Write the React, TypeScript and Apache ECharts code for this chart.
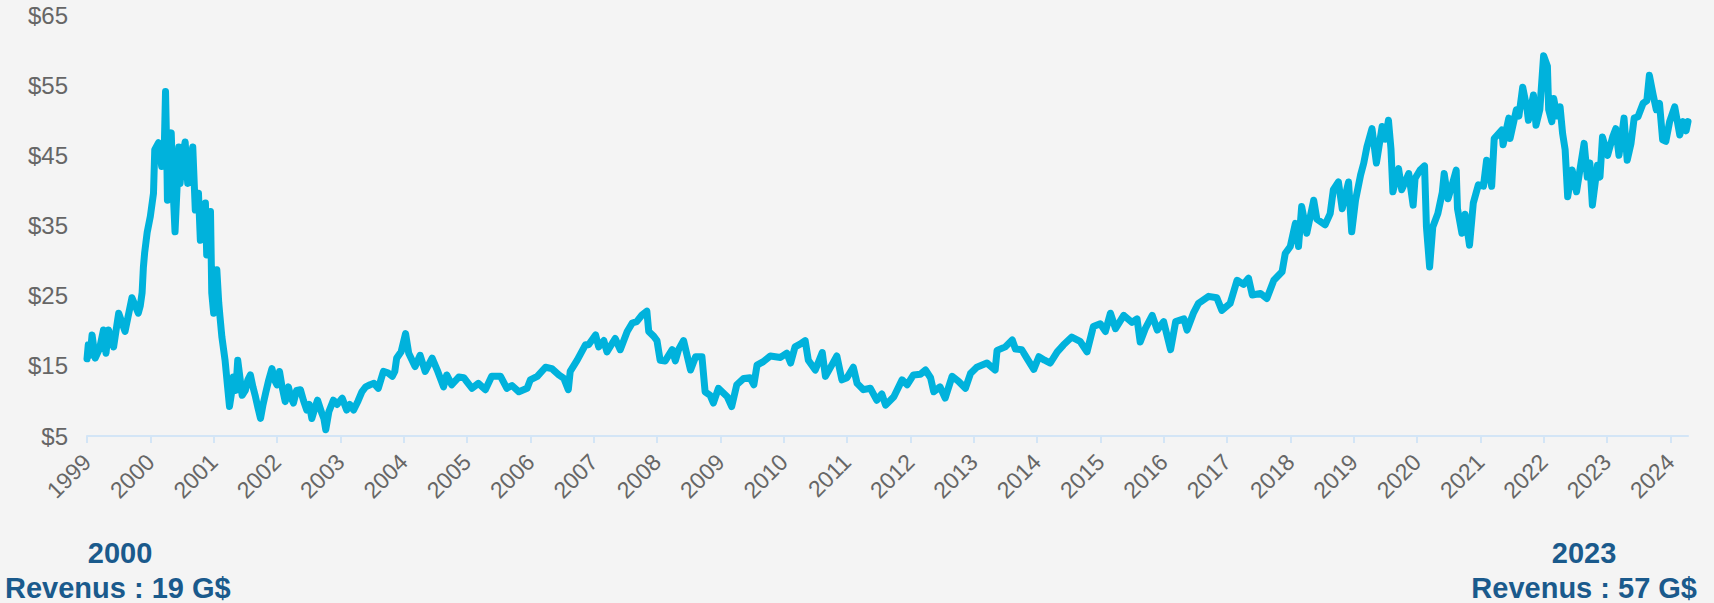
import React, { useEffect, useRef } from "react";
import * as echarts from "echarts";

// Decimal-year dates and closing prices
const DATES = [
  1999.0, 1999.02, 1999.05, 1999.08, 1999.13, 1999.2, 1999.26, 1999.3, 1999.34, 1999.42, 1999.5, 1999.6, 1999.71, 1999.81, 1999.84, 1999.87, 1999.89, 1999.91, 1999.95,
  2000.0, 2000.05, 2000.07, 2000.13, 2000.18, 2000.22, 2000.24, 2000.26, 2000.27, 2000.3, 2000.33, 2000.36, 2000.39, 2000.42, 2000.45, 2000.47, 2000.51, 2000.55, 2000.59, 2000.63, 2000.67, 2000.71, 2000.76, 2000.79, 2000.84, 2000.87, 2000.89, 2000.93, 2000.95, 2000.97,
  2001.0, 2001.05, 2001.08, 2001.1, 2001.13, 2001.18, 2001.22, 2001.25, 2001.28, 2001.31, 2001.35, 2001.38, 2001.42, 2001.45, 2001.5, 2001.54, 2001.58, 2001.62, 2001.66, 2001.7, 2001.74, 2001.78, 2001.82, 2001.87, 2001.92, 2001.96,
  2002.0, 2002.04, 2002.08, 2002.13, 2002.18, 2002.22, 2002.26, 2002.31, 2002.37, 2002.42, 2002.47, 2002.51, 2002.55, 2002.6, 2002.64, 2002.68, 2002.71, 2002.74, 2002.77, 2002.82, 2002.89, 2002.95,
  2003.03, 2003.1, 2003.15, 2003.21, 2003.28, 2003.34, 2003.4, 2003.47, 2003.53, 2003.6, 2003.68, 2003.75, 2003.82, 2003.86, 2003.89, 2003.96,
  2004.03, 2004.08, 2004.18, 2004.26, 2004.34, 2004.45, 2004.53, 2004.63, 2004.68, 2004.76, 2004.87, 2004.95,
  2005.08, 2005.18, 2005.29, 2005.39, 2005.53, 2005.63, 2005.71, 2005.82, 2005.95,
  2006.0, 2006.11, 2006.24, 2006.34, 2006.45, 2006.53, 2006.6, 2006.63, 2006.74, 2006.87, 2006.92,
  2007.03, 2007.08, 2007.16, 2007.21, 2007.34, 2007.42, 2007.53, 2007.61, 2007.68, 2007.76, 2007.84, 2007.87, 2007.95,
  2008.0, 2008.05, 2008.13, 2008.24, 2008.29, 2008.34, 2008.42, 2008.53, 2008.61, 2008.71, 2008.76, 2008.84, 2008.89, 2008.97,
  2009.11, 2009.18, 2009.26, 2009.37, 2009.47, 2009.53, 2009.58, 2009.68, 2009.79, 2009.95,
  2010.05, 2010.11, 2010.18, 2010.26, 2010.34, 2010.39, 2010.5, 2010.61, 2010.66, 2010.76, 2010.84, 2010.92,
  2011.0, 2011.1, 2011.16, 2011.26, 2011.37, 2011.47, 2011.55, 2011.61, 2011.74, 2011.87, 2011.95,
  2012.05, 2012.16, 2012.24, 2012.32, 2012.37, 2012.47, 2012.55, 2012.66, 2012.76, 2012.87, 2012.95,
  2013.05, 2013.21, 2013.34, 2013.37, 2013.5, 2013.61, 2013.66, 2013.76, 2013.84, 2013.95,
  2014.03, 2014.12, 2014.21, 2014.32, 2014.42, 2014.55, 2014.68, 2014.79, 2014.89,
  2015.0, 2015.08, 2015.16, 2015.24, 2015.37, 2015.5, 2015.58, 2015.63, 2015.71, 2015.82, 2015.9,
  2016.0, 2016.11, 2016.19, 2016.32, 2016.37, 2016.47, 2016.55, 2016.71, 2016.84, 2016.92,
  2017.05, 2017.16, 2017.26, 2017.34, 2017.4, 2017.53, 2017.63, 2017.74, 2017.87, 2017.92,
  2018.0, 2018.08, 2018.13, 2018.18, 2018.26, 2018.37, 2018.42, 2018.55, 2018.63, 2018.68, 2018.76, 2018.82, 2018.92, 2018.97,
  2019.03, 2019.11, 2019.16, 2019.21, 2019.29, 2019.36, 2019.45, 2019.5, 2019.55, 2019.59, 2019.62, 2019.71, 2019.76, 2019.87, 2019.94, 2019.97,
  2020.05, 2020.12, 2020.15, 2020.2, 2020.25, 2020.33, 2020.4, 2020.43, 2020.49, 2020.55, 2020.62, 2020.64, 2020.71, 2020.76, 2020.83, 2020.89, 2020.97,
  2021.05, 2021.1, 2021.18, 2021.22, 2021.34, 2021.36, 2021.45, 2021.47, 2021.57, 2021.61, 2021.67, 2021.74, 2021.76, 2021.84, 2021.88, 2021.94,
  2022.0, 2022.06, 2022.08, 2022.13, 2022.16, 2022.21, 2022.26, 2022.3, 2022.34, 2022.38, 2022.45, 2022.52, 2022.58, 2022.64, 2022.69, 2022.73, 2022.77, 2022.85, 2022.89, 2022.93,
  2023.01, 2023.09, 2023.14, 2023.19, 2023.27, 2023.32, 2023.38, 2023.43, 2023.49, 2023.57, 2023.63, 2023.67, 2023.73, 2023.78, 2023.83, 2023.88, 2023.93, 2023.99,
  2024.07, 2024.15, 2024.2, 2024.25, 2024.28,
];

const PRICES = [
  16.0, 18.0, 16.5, 19.4, 16.1, 17.5, 20.1, 16.8, 20.1, 17.7, 22.5, 19.9, 24.7, 22.5, 23.5, 25.4, 29.0, 31.1, 34.0,
  36.3, 39.6, 45.8, 46.8, 43.4, 46.0, 54.1, 45.0, 38.6, 44.0, 48.2, 40.0, 34.1, 40.0, 46.2, 41.0, 45.0, 46.9, 41.0, 44.0, 46.2, 37.2, 39.6, 32.9, 36.0, 38.2, 30.8, 34.0, 37.0, 25.4,
  22.5, 28.7, 24.0, 22.0, 19.1, 15.8, 12.0, 9.2, 11.0, 13.4, 11.5, 15.8, 13.0, 10.8, 11.5, 13.0, 13.7, 12.0, 10.6, 9.0, 7.5, 9.5, 11.1, 13.0, 14.6, 13.0,
  12.3, 14.2, 12.0, 9.9, 12.0, 10.5, 9.7, 11.5, 11.6, 10.0, 8.7, 9.5, 7.5, 9.0, 10.1, 9.0, 8.2, 7.5, 5.9, 8.5, 10.1, 9.5,
  10.4, 8.7, 9.5, 8.7, 10.0, 11.3, 12.0, 12.3, 12.5, 11.8, 14.2, 14.0, 13.5, 14.2, 16.1, 17.0,
  19.6, 16.8, 14.9, 16.5, 14.2, 16.1, 14.4, 12.0, 13.7, 12.3, 13.4, 13.3,
  11.8, 12.5, 11.6, 13.5, 13.5, 11.8, 12.2, 11.3, 11.8,
  13.0, 13.5, 14.8, 14.6, 13.7, 13.2, 11.6, 14.2, 15.8, 18.0, 18.0,
  19.4, 17.7, 18.6, 17.0, 18.9, 17.3, 19.9, 21.1, 21.3, 22.2, 22.8, 19.9, 19.2,
  18.6, 15.8, 15.7, 17.3, 15.7, 17.3, 18.6, 14.4, 16.3, 16.3, 11.3, 10.8, 9.7, 11.8,
  10.6, 9.2, 12.3, 13.2, 13.3, 12.3, 15.1, 15.6, 16.4, 16.2,
  16.8, 15.4, 17.7, 18.1, 18.6, 15.8, 14.4, 16.9, 13.5, 15.1, 16.4, 13.0,
  13.3, 14.8, 12.5, 11.6, 11.8, 10.1, 11.0, 9.4, 10.6, 13.0, 12.3,
  13.7, 13.8, 14.4, 13.3, 11.3, 12.0, 10.4, 13.5, 12.8, 11.8, 13.9,
  14.8, 15.4, 14.4, 17.2, 17.7, 18.7, 17.4, 17.3, 16.1, 14.5,
  16.3, 15.8, 15.4, 17.0, 18.0, 19.1, 18.5, 17.0, 20.6,
  21.0, 19.9, 22.5, 20.3, 22.2, 21.2, 21.7, 18.4, 20.3, 22.2, 20.1,
  21.3, 17.3, 21.3, 21.7, 20.1, 22.5, 23.9, 24.9, 24.7, 22.9,
  23.9, 27.2, 26.6, 27.5, 25.1, 25.3, 24.6, 27.2, 28.4, 31.0,
  32.0, 35.3, 32.0, 37.7, 33.9, 38.6, 35.9, 35.1, 36.7, 40.1, 41.2, 37.4, 41.2, 34.1,
  38.6, 42.2, 43.9, 46.2, 48.8, 43.9, 49.1, 47.3, 50.0, 45.9, 39.8, 43.1, 40.1, 42.4, 37.9, 41.7,
  42.9, 43.5, 34.8, 29.1, 34.8, 36.7, 39.7, 42.4, 38.8, 40.6, 42.9, 37.4, 33.9, 36.6, 32.2, 38.2, 40.8,
  40.6, 44.3, 40.6, 47.4, 48.6, 46.5, 50.3, 47.4, 51.5, 50.6, 54.7, 51.5, 50.0, 53.6, 49.3, 51.5,
  59.2, 57.7, 51.5, 49.8, 53.1, 50.6, 51.9, 48.1, 45.8, 39.1, 42.9, 39.8, 43.3, 46.7, 41.9, 43.9, 37.9, 43.6, 41.9, 47.6,
  45.0, 47.6, 48.8, 45.0, 50.3, 44.3, 46.7, 50.3, 50.5, 52.4, 52.8, 56.4, 53.6, 51.5, 52.4, 47.2, 47.0, 49.8,
  51.9, 47.9, 49.8, 48.5, 49.8,
];

const YEAR_TICKS = [
  1999, 2000, 2001, 2002, 2003, 2004, 2005, 2006, 2007, 2008, 2009, 2010, 2011,
  2012, 2013, 2014, 2015, 2016, 2017, 2018, 2019, 2020, 2021, 2022, 2023, 2024,
];
const PRICE_MIN = 5;
const PRICE_MAX = 65;
const PRICE_STEP = 10;

const LEFT_YEAR = "2000";
const LEFT_REVENUE = "Revenus : 19 G$";
const RIGHT_YEAR = "2023";
const RIGHT_REVENUE = "Revenus : 57 G$";

const FONT = "'Liberation Sans', Arial, Helvetica, sans-serif";
const AXIS_COLOR = "#d3e5f6";
const LABEL_COLOR = "#666666";
const TITLE_COLOR = "#1a5a8c";

export default function App() {
  const ref = useRef<HTMLDivElement>(null);

  useEffect(() => {
    document.body.style.margin = "0";
    const chart = echarts.init(ref.current!, null, { renderer: "svg" });
    const titleStyle = {
      fill: TITLE_COLOR,
      fontSize: 29,
      fontWeight: "bold",
      fontFamily: FONT,
      verticalAlign: "middle",
    };
    chart.setOption({
      animation: false,
      backgroundColor: "#f4f4f4",
      grid: { left: 87, right: 26, top: 15, bottom: 167 },
      xAxis: {
        type: "value",
        min: 1999,
        max: DATES[DATES.length - 1],
        interval: 1,
        axisLine: { show: true, lineStyle: { color: AXIS_COLOR, width: 2 } },
        axisTick: {
          show: true,
          length: 7,
          customValues: YEAR_TICKS,
          lineStyle: { color: AXIS_COLOR, width: 2 },
        },
        axisLabel: {
          customValues: YEAR_TICKS,
          rotate: 45,
          margin: 22,
          fontSize: 23,
          color: LABEL_COLOR,
          fontFamily: FONT,
          formatter: (v: number) => (Number.isInteger(v) ? String(v) : ""),
        },
        splitLine: { show: false },
      },
      yAxis: {
        type: "value",
        min: PRICE_MIN,
        max: PRICE_MAX,
        interval: PRICE_STEP,
        axisLine: { show: false },
        axisTick: { show: false },
        splitLine: { show: false },
        axisLabel: {
          formatter: "${value}",
          fontSize: 24,
          margin: 19,
          color: LABEL_COLOR,
          fontFamily: FONT,
        },
      },
      series: [
        {
          type: "line",
          data: DATES.map((d, i) => [d, PRICES[i]]),
          showSymbol: false,
          symbol: "none",
          clip: false,
          lineStyle: { width: 7, color: "#00b2dc", cap: "round", join: "round" },
        },
      ],
      graphic: [
        { type: "text", x: 120, y: 553, style: { ...titleStyle, text: LEFT_YEAR, align: "center" } },
        { type: "text", x: 5, y: 588, style: { ...titleStyle, text: LEFT_REVENUE, align: "left" } },
        { type: "text", x: 1584, y: 553, style: { ...titleStyle, text: RIGHT_YEAR, align: "center" } },
        { type: "text", x: 1697, y: 588, style: { ...titleStyle, text: RIGHT_REVENUE, align: "right" } },
      ],
    });
    return () => chart.dispose();
  }, []);

  return <div ref={ref} style={{ width: 1714, height: 603 }} />;
}
